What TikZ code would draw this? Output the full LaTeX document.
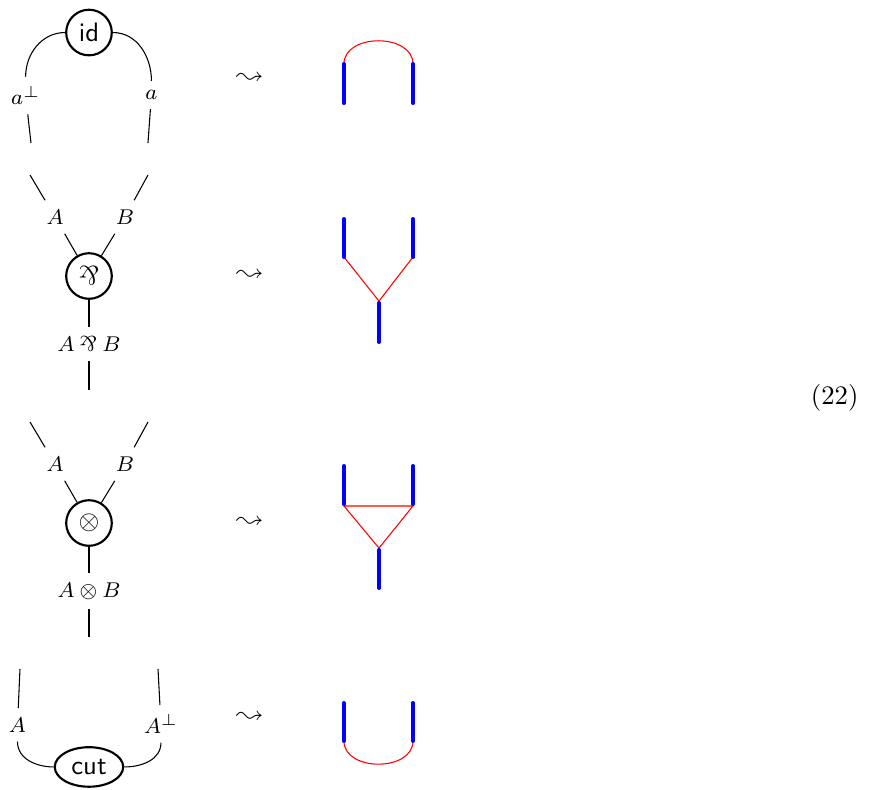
\documentclass[tikz,border=0pt]{standalone}
\usepackage{amsmath,latexsym}
\usepackage{tikz}
\usetikzlibrary{shapes.geometric}

\newcommand{\parrop}{\mathbin{\rotatebox[origin=c]{180}{$\&$}}}

\begin{document}
\begin{tikzpicture}[
  gate/.style={circle, draw, thick, minimum size=0.6cm, inner sep=0pt},
  cutgate/.style={ellipse, draw, thick, minimum width=0.9cm, minimum height=0.52cm, inner sep=0pt, font=\sffamily},
  lbl/.style={font=\footnotesize},
  axiom/.style={blue, line width=1.5pt, line cap=round},
  link/.style={red}
]
  \useasboundingbox (0,0) rectangle (11.474,-10.395);

  % Row 1: identity
  \begin{scope}[shift={(0,-0.428)}]
    % Net
    \node[gate, font=\sffamily] (id) at (1.171,0) {id};
    \node[lbl] (idA) at (0.337,-0.829) {$a^\perp$};
    \node[lbl] (idB) at (1.993,-0.822) {$a$};
    \coordinate (idl) at (0.408,-1.454);
    \coordinate (idr) at (1.947,-1.454);
    \draw (id) to[out=180,in=90] (idA) -- (idl);
    \draw (id) to[out=0,in=90] (idB) -- (idr);

    \node (to1) at (3.29,-0.612) {$\leadsto$};

    % Graph
    \coordinate (ax1l) at (4.526,-0.414);
    \coordinate (ax1r) at (5.434,-0.414);
    \draw[link] (ax1l) to[out=90,in=90,looseness=1.15] (ax1r);
    \draw[axiom] (ax1l) -- (4.526,-0.928);
    \draw[axiom] (ax1r) -- (5.434,-0.928);
  \end{scope}

  % Row 2: par
  \begin{scope}[shift={(0,-3.632)}]
    % Net
    \node[gate] (par) at (1.171,0) {$\parrop$};
    \node[lbl] (parA) at (0.724,0.776) {$A$};
    \node[lbl] (parB) at (1.645,0.776) {$B$};
    \node[lbl] (parC) at (1.171,-0.895) {$A \parrop B$};
    \coordinate (parl) at (0.395,1.329);
    \coordinate (parr) at (1.947,1.329);
    \coordinate (pard) at (1.171,-1.5);
    \draw (parl) -- (parA) -- (par);
    \draw (parr) -- (parB) -- (par);
    \draw (par) -- (parC) -- (pard);

    \node (to2) at (3.29,0) {$\leadsto$};

    % Graph
    \coordinate (p2l) at (4.526,0.25);
    \coordinate (p2r) at (5.434,0.25);
    \coordinate (p2d) at (4.987,-0.33);
    \draw[link] (p2l) -- (p2d) -- (p2r);
    \draw[axiom] (4.526,0.75) -- (p2l);
    \draw[axiom] (5.434,0.75) -- (p2r);
    \draw[axiom] (4.987,-0.355) -- (4.987,-0.868);
  \end{scope}

  % Row 3: tensor
  \begin{scope}[shift={(0,-6.882)}]
    % Net
    \node[gate] (ten) at (1.171,0) {$\otimes$};
    \node[lbl] (tenA) at (0.724,0.776) {$A$};
    \node[lbl] (tenB) at (1.645,0.776) {$B$};
    \node[lbl] (tenC) at (1.171,-0.895) {$A \otimes B$};
    \coordinate (tenl) at (0.395,1.329);
    \coordinate (tenr) at (1.947,1.329);
    \coordinate (tend) at (1.171,-1.5);
    \draw (tenl) -- (tenA) -- (ten);
    \draw (tenr) -- (tenB) -- (ten);
    \draw (ten) -- (tenC) -- (tend);

    \node (to3) at (3.29,0) {$\leadsto$};

    % Graph
    \coordinate (t3l) at (4.526,0.224);
    \coordinate (t3r) at (5.434,0.224);
    \coordinate (t3d) at (4.987,-0.33);
    \draw[link] (t3l) -- (t3r) -- (t3d) -- cycle;
    \draw[axiom] (4.526,0.75) -- (4.526,0.25);
    \draw[axiom] (5.434,0.75) -- (5.434,0.25);
    \draw[axiom] (4.987,-0.355) -- (4.987,-0.855);
  \end{scope}

  % Row 4: cut
  \begin{scope}[shift={(0,-10.092)}]
    % Net
    \node[cutgate] (cut) at (1.171,0) {cut};
    \node[lbl] (cutA) at (0.230,0.553) {$A$};
    \node[lbl] (cutB) at (2.118,0.566) {$A^\perp$};
    \coordinate (cutl) at (0.263,1.289);
    \coordinate (cutr) at (2.079,1.289);
    \draw (cutl) -- (cutA) to[out=-90,in=180] (cut);
    \draw (cutr) -- (cutB) to[out=-90,in=0] (cut);

    \node (to4) at (3.29,0.645) {$\leadsto$};

    % Graph
    \coordinate (c4l) at (4.526,0.342);
    \coordinate (c4r) at (5.434,0.342);
    \draw[link] (c4l) to[out=-90,in=-90,looseness=1.15] (c4r);
    \draw[axiom] (4.526,0.842) -- (c4l);
    \draw[axiom] (5.434,0.842) -- (c4r);
  \end{scope}

  % Equation number
  \node (eqno) at (10.983,-5.237) {(22)};
\end{tikzpicture}
\end{document}
